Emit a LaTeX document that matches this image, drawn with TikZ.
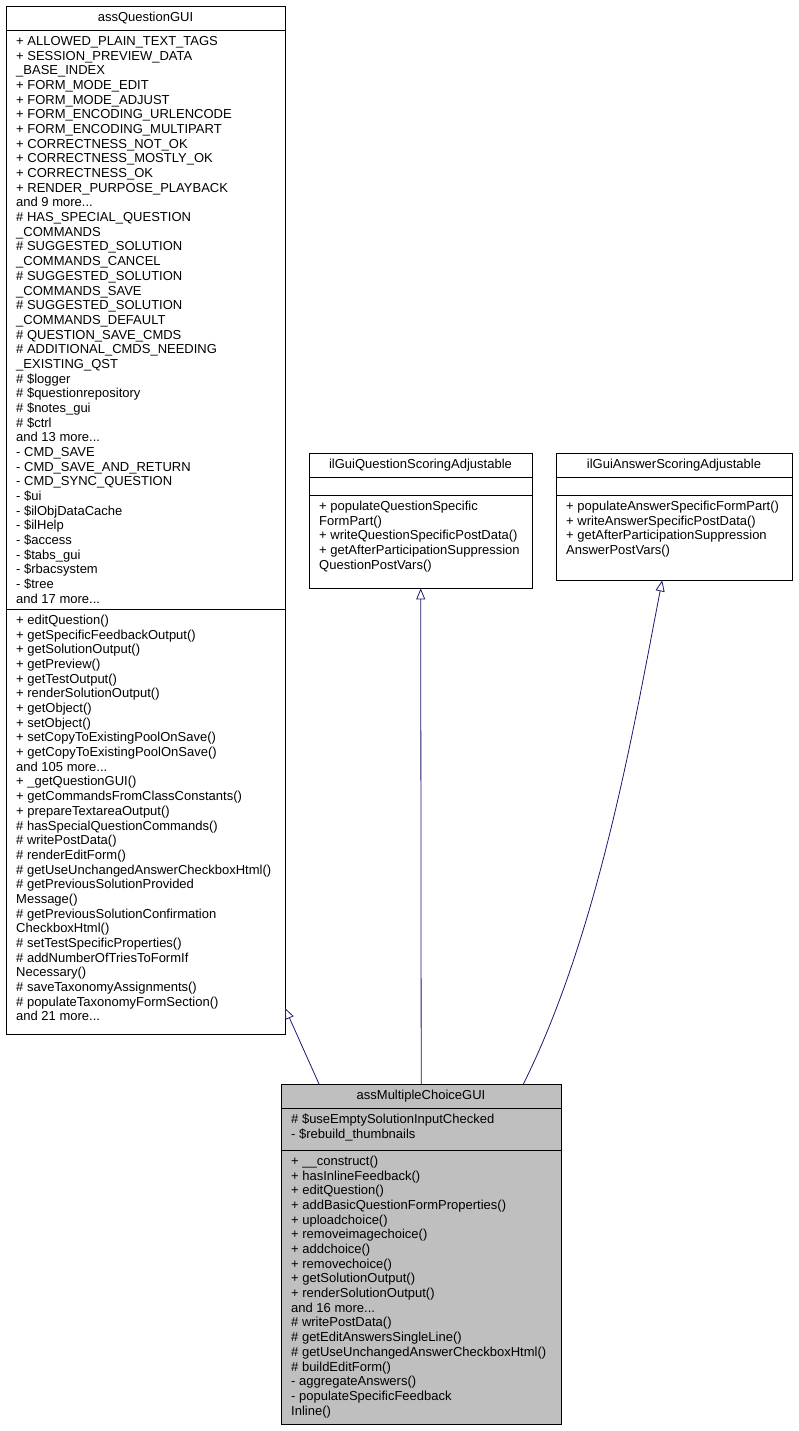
\documentclass[tikz,border=0pt]{standalone}
\usepackage{fontspec}
\setmainfont{Liberation Sans}
\usetikzlibrary{arrows.meta}
\definecolor{edgeblue}{RGB}{25,25,112}
\definecolor{boxgrey}{RGB}{191,191,191}
\begin{document}
\begin{tikzpicture}[x=1pt,y=-1pt]
\tikzset{part/.style = {draw,anchor=north west,inner sep=0pt}}
\tikzset{lines/.style = {anchor=north west,inner sep=0pt,align=left,font=\fontsize{13}{14.68}\selectfont}}
\tikzset{title/.style = {anchor=north,inner sep=0pt,font=\fontsize{13}{14.68}\selectfont}}
\tikzset{inherit/.style = {draw=edgeblue,thick,-{Triangle[open,length=11pt,width=9pt]}}}
\useasboundingbox (0,0) rectangle (798,1431);
% assQuestionGUI
\node[part,minimum width=279pt,minimum height=24pt] (qhead) at (6,6) {};
\node[part,minimum width=279pt,minimum height=579pt] (qattr) at (6,30) {};
\node[part,minimum width=279pt,minimum height=425pt] (qmeth) at (6,609) {};
\node[title] at (145.5,11) {\strut assQuestionGUI};
\node[lines] at (16,35) {\strut + ALLOWED\_PLAIN\_TEXT\_TAGS\\+ SESSION\_PREVIEW\_DATA\\\_BASE\_INDEX\\+ FORM\_MODE\_EDIT\\+ FORM\_MODE\_ADJUST\\+ FORM\_ENCODING\_URLENCODE\\+ FORM\_ENCODING\_MULTIPART\\+ CORRECTNESS\_NOT\_OK\\+ CORRECTNESS\_MOSTLY\_OK\\+ CORRECTNESS\_OK\\+ RENDER\_PURPOSE\_PLAYBACK\\and 9 more...\\\# HAS\_SPECIAL\_QUESTION\\\_COMMANDS\\\# SUGGESTED\_SOLUTION\\\_COMMANDS\_CANCEL\\\# SUGGESTED\_SOLUTION\\\_COMMANDS\_SAVE\\\# SUGGESTED\_SOLUTION\\\_COMMANDS\_DEFAULT\\\# QUESTION\_SAVE\_CMDS\\\# ADDITIONAL\_CMDS\_NEEDING\\\_EXISTING\_QST\\\# \$logger\\\# \$questionrepository\\\# \$notes\_gui\\\# \$ctrl\\and 13 more...\\- CMD\_SAVE\\- CMD\_SAVE\_AND\_RETURN\\- CMD\_SYNC\_QUESTION\\- \$ui\\- \$ilObjDataCache\\- \$ilHelp\\- \$access\\- \$tabs\_gui\\- \$rbacsystem\\- \$tree\\and 17 more...};
\node[lines] at (16,614) {\strut + editQuestion()\\+ getSpecificFeedbackOutput()\\+ getSolutionOutput()\\+ getPreview()\\+ getTestOutput()\\+ renderSolutionOutput()\\+ getObject()\\+ setObject()\\+ setCopyToExistingPoolOnSave()\\+ getCopyToExistingPoolOnSave()\\and 105 more...\\+ \_getQuestionGUI()\\+ getCommandsFromClassConstants()\\+ prepareTextareaOutput()\\\# hasSpecialQuestionCommands()\\\# writePostData()\\\# renderEditForm()\\\# getUseUnchangedAnswerCheckboxHtml()\\\# getPreviousSolutionProvided\\Message()\\\# getPreviousSolutionConfirmation\\CheckboxHtml()\\\# setTestSpecificProperties()\\\# addNumberOfTriesToFormIf\\Necessary()\\\# saveTaxonomyAssignments()\\\# populateTaxonomyFormSection()\\and 21 more...};
% ilGuiQuestionScoringAdjustable
\node[part,minimum width=223pt,minimum height=24pt] (shead) at (309,453) {};
\node[part,minimum width=223pt,minimum height=18pt] (sattr) at (309,477) {};
\node[part,minimum width=223pt,minimum height=93pt] (smeth) at (309,495) {};
\node[title] at (420.5,458) {\strut ilGuiQuestionScoringAdjustable};
\node[lines] at (319,500) {\strut + populateQuestionSpecific\\FormPart()\\+ writeQuestionSpecificPostData()\\+ getAfterParticipationSuppression\\QuestionPostVars()};
% ilGuiAnswerScoringAdjustable
\node[part,minimum width=236pt,minimum height=24pt] (ahead) at (556,453) {};
\node[part,minimum width=236pt,minimum height=18pt] (aattr) at (556,477) {};
\node[part,minimum width=236pt,minimum height=85pt] (ameth) at (556,495) {};
\node[title] at (674,458) {\strut ilGuiAnswerScoringAdjustable};
\node[lines] at (566,500) {\strut + populateAnswerSpecificFormPart()\\+ writeAnswerSpecificPostData()\\+ getAfterParticipationSuppression\\AnswerPostVars()};
% assMultipleChoiceGUI
\node[part,fill=boxgrey,minimum width=280pt,minimum height=24pt] (mhead) at (281,1084) {};
\node[part,fill=boxgrey,minimum width=280pt,minimum height=42pt] (mattr) at (281,1108) {};
\node[part,fill=boxgrey,minimum width=280pt,minimum height=274pt] (mmeth) at (281,1150) {};
\node[title] at (421,1089) {\strut assMultipleChoiceGUI};
\node[lines] at (291,1113) {\strut \# \$useEmptySolutionInputChecked\\- \$rebuild\_thumbnails};
\node[lines] at (291,1155) {\strut + \_\_construct()\\+ hasInlineFeedback()\\+ editQuestion()\\+ addBasicQuestionFormProperties()\\+ uploadchoice()\\+ removeimagechoice()\\+ addchoice()\\+ removechoice()\\+ getSolutionOutput()\\+ renderSolutionOutput()\\and 16 more...\\\# writePostData()\\\# getEditAnswersSingleLine()\\\# getUseUnchangedAnswerCheckboxHtml()\\\# buildEditForm()\\- aggregateAnswers()\\- populateSpecificFeedback\\Inline()};
% edges
\draw[inherit] (mhead.north west) ++(38,0) -- (285,1008);
\draw[inherit] (mhead.north) -- (smeth.south);
\draw[inherit] (mhead.north east) ++(-38,0) .. controls (600,930) and (635,720) .. ([xshift=-12pt]ameth.south);
\end{tikzpicture}
\end{document}
